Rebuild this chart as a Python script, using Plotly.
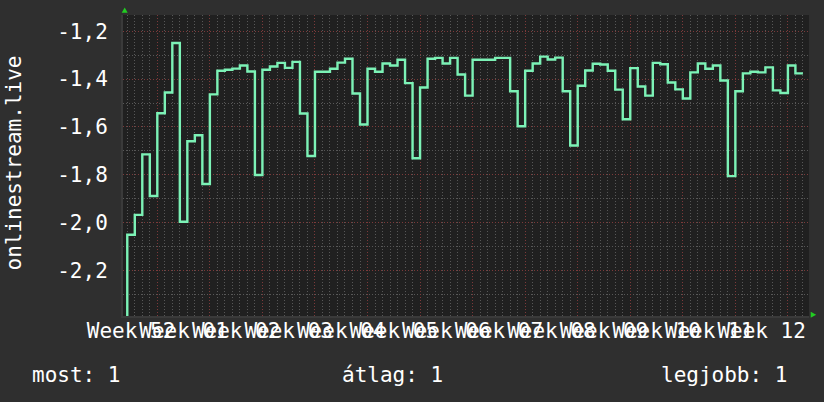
import pandas as pd
import plotly.graph_objects as go

# ---- data (daily values, timestamp = end of each day's interval) ----
period_end = pd.date_range("2019-12-26", periods=91, freq="D")
values = [
    -2.60,  # interval before the first full day, below the visible range
    -2.051, -1.968, -1.715, -1.889, -1.543, -1.456, -1.249, -1.997, -1.660, -1.635,
    -1.839, -1.464, -1.365, -1.361, -1.356, -1.343, -1.368, -1.801, -1.361, -1.347,
    -1.332, -1.353, -1.328, -1.544, -1.722, -1.369, -1.369, -1.357, -1.331, -1.315,
    -1.460, -1.590, -1.357, -1.369, -1.335, -1.343, -1.319, -1.417, -1.731, -1.435,
    -1.315, -1.311, -1.335, -1.311, -1.381, -1.469, -1.319, -1.319, -1.319, -1.311,
    -1.311, -1.451, -1.597, -1.365, -1.335, -1.306, -1.318, -1.310, -1.451, -1.678,
    -1.428, -1.364, -1.336, -1.339, -1.365, -1.444, -1.568, -1.354, -1.431, -1.469,
    -1.332, -1.338, -1.414, -1.443, -1.481, -1.372, -1.335, -1.357, -1.343, -1.406,
    -1.806, -1.451, -1.376, -1.369, -1.372, -1.351, -1.447, -1.458, -1.343, -1.376,
]

week_label_pos = pd.date_range("2019-12-26 12:00", periods=13, freq="7D")
week_labels = ["Week 52", "Week 01", "Week 02", "Week 03", "Week 04", "Week 05",
               "Week 06", "Week 07", "Week 08", "Week 09", "Week 10", "Week 11",
               "Week 12"]
y_tick_vals = [-1.2, -1.4, -1.6, -1.8, -2.0, -2.2]
y_tick_text = ["-1,2", "-1,4", "-1,6", "-1,8", "-2,0", "-2,2"]
y_title = "onlinestream.live"
legend_items = ["most: 1", "átlag: 1", "legjobb: 1"]

# ---- style ----
FONT = "DejaVu Sans Mono"
PAPER = "#2f2f2f"
PLOT = "#202020"
LINE = "#7cf2b6"
GRID_MINOR = "#575757"
GRID_MAJOR = "#7c3a3a"
ARROW = "#22cc22"
DOT = "1px,2px"

x_range = ["2019-12-25 10:19", "2020-03-25 19:26"]
y_range = [-2.3912, -1.1318]

fig = go.Figure()
fig.add_trace(go.Scatter(
    x=period_end, y=values, mode="lines", line=dict(color=LINE, width=2.4, shape="vh"),
    hoverinfo="skip", showlegend=False,
))
# empty trace so the label axis (x2) is drawn
fig.add_trace(go.Scatter(x=[], y=[], xaxis="x2", yaxis="y", mode="lines",
                         hoverinfo="skip", showlegend=False))

fig.update_layout(
    width=824, height=402,
    margin=dict(l=123, r=15, t=15, b=86),
    paper_bgcolor=PAPER, plot_bgcolor=PLOT,
    font=dict(family=FONT, size=21, color="#ffffff"),
    showlegend=False,
    xaxis=dict(
        type="date", range=x_range, fixedrange=True,
        tickmode="linear", tick0="2019-12-30", dtick=7 * 86400000,
        showticklabels=False, ticks="",
        showgrid=True, gridcolor=GRID_MAJOR, griddash=DOT, gridwidth=1,
        minor=dict(tick0="2019-12-30", dtick=86400000, showgrid=True,
                   gridcolor=GRID_MINOR, griddash=DOT, gridwidth=1),
        showline=True, linecolor="#3a3a3a", linewidth=2, zeroline=False,
    ),
    xaxis2=dict(
        type="date", range=x_range, overlaying="x", anchor="y", side="bottom",
        fixedrange=True,
        tickmode="array", tickvals=week_label_pos, ticktext=week_labels,
        tickangle=0, ticks="", showgrid=False, showline=False, zeroline=False,
        tickfont=dict(family=FONT, size=21, color="#ffffff"), ticklabelstandoff=0,
    ),
    yaxis=dict(
        range=y_range, fixedrange=True,
        tickmode="array", tickvals=y_tick_vals, ticktext=y_tick_text,
        ticks="", ticklabelstandoff=9,
        tickfont=dict(family=FONT, size=21, color="#ffffff"),
        showgrid=True, gridcolor=GRID_MAJOR, griddash=DOT, gridwidth=1,
        minor=dict(tick0=-1.2, dtick=0.1, showgrid=True,
                   gridcolor=GRID_MINOR, griddash=DOT, gridwidth=1),
        showline=True, linecolor="#3a3a3a", linewidth=2, zeroline=False,
    ),
)

# y-axis title
fig.add_annotation(text=y_title, xref="paper", yref="paper", x=-0.1589, y=0.51,
                   xanchor="center", yanchor="middle", textangle=-90, showarrow=False,
                   font=dict(family=FONT, size=21, color="#ffffff"))

# legend line at the bottom
legend_x = [-0.1356, 0.3163, 0.7807]
for txt, lx in zip(legend_items, legend_x):
    fig.add_annotation(text=txt, xref="paper", yref="paper", x=lx, y=-0.196,
                       xanchor="left", yanchor="middle", showarrow=False,
                       font=dict(family=FONT, size=21, color="#ffffff"))

# green axis arrows
fig.add_shape(type="path", xref="paper", yref="paper", xsizemode="pixel", ysizemode="pixel",
              xanchor=0, yanchor=1, path="M -1.3 2.3 L 4.7 2.3 L 1.7 7.5 Z",
              fillcolor=ARROW, line=dict(width=0))
fig.add_shape(type="path", xref="paper", yref="paper", xsizemode="pixel", ysizemode="pixel",
              xanchor=1, yanchor=0, path="M 1.7 -1.7 L 1.7 4.3 L 7.2 1.3 Z",
              fillcolor=ARROW, line=dict(width=0))

fig.write_html(
    "out.html",
    config={"displayModeBar": False},
    post_script="document.body.style.margin='0';document.body.style.background='#2f2f2f';",
)
